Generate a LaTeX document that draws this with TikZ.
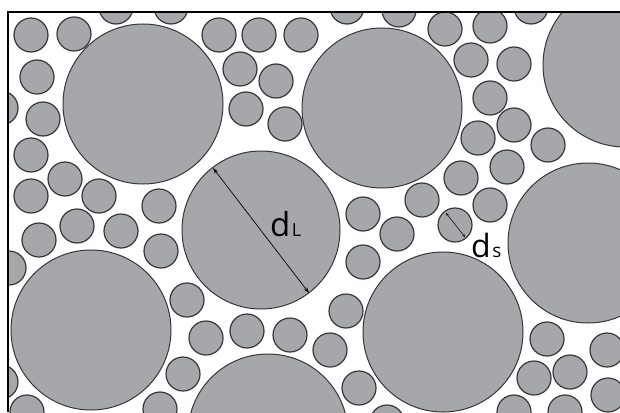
\documentclass[tikz,border=0pt]{standalone}
\usepackage{fontspec}
\setmainfont{Open Sans}
\usetikzlibrary{arrows.meta}
\definecolor{grain}{RGB}{166,167,171}
\definecolor{rim}{RGB}{55,55,58}
\tikzset{
  grainbig/.style={fill=grain, draw=rim, line width=1pt},
  grainsmall/.style={fill=grain, draw=rim, line width=1.2pt},
  frameline/.style={draw=black, line width=2.5pt},
  dimarrow/.style={draw=black, line width=0.7pt, {Stealth[length=6pt,width=4pt]}-{Stealth[length=6pt,width=4pt]}},
  dimarrowsmall/.style={draw=black, line width=0.5pt, {Stealth[length=3pt,width=2.5pt]}-{Stealth[length=3pt,width=2.5pt]}},
}
\begin{document}
\begin{tikzpicture}[x=1pt,y=-1pt]
\useasboundingbox (0,0) rectangle (620,412);
\begin{scope}
\clip (8,12) rectangle (620,412);
% large grains
\foreach \cx/\cy/\r in {143/104/80, 382/108/80, 625/65/82, 261/230/79, 588/243/80, 91/330/80, 443/332/80, 268/434/80}
  \draw[grainbig] (\cx,\cy) circle[radius=\r];
% small grains
\foreach \cx/\cy in {
  31/35, 74/34, 116/7, 171/7, 37/77, 1/108, 43/119,
  219/35, 259/35, 301/35, 240/69, 276/81, 246/109, 285/124, 347/7, 399/10,
  445/29, 490/26, 531/7, 471/60, 514/64, 490/98, 514/125, 478/138, 548/145,
  31/155, 65/179, 31/196, 99/196, 159/206, 77/226, 39/240, 121/231, 161/251, 9/268,
  363/214, 397/234, 363/262,
  461/178, 507/167, 422/200, 490/205, 455/225,
  187/300, 206/338, 183/374, 160/409, 27/412, 1/382,
  247/331, 290/335, 330/350, 346/311, 359/388, 387/422,
  547/339, 607/350, 534/378, 570/372, 608/395, 514/412, 565/412}
  \draw[grainsmall] (\cx,\cy) circle[radius=17];
\end{scope}
% frame
\draw[frameline] (8,412) -- (8,12) -- (620,12);
% dimension d_L
\coordinate (dla) at (213,168);
\coordinate (dlb) at (309,293);
\draw[dimarrow] (dla) -- (dlb);
\node[anchor=base west, inner sep=0pt] (dl) at (270,236)
  {\fontsize{33}{33}\selectfont d\kern1.5pt\fontsize{18}{18}\selectfont L};
% dimension d_s
\coordinate (dsa) at (446,213);
\coordinate (dsb) at (465,237);
\draw[dimarrowsmall] (dsa) -- (dsb);
\node[anchor=base west, inner sep=0pt] (ds) at (471,257)
  {\fontsize{32}{32}\selectfont d\kern1.5pt\fontsize{19}{19}\selectfont s};
\end{tikzpicture}
\end{document}
